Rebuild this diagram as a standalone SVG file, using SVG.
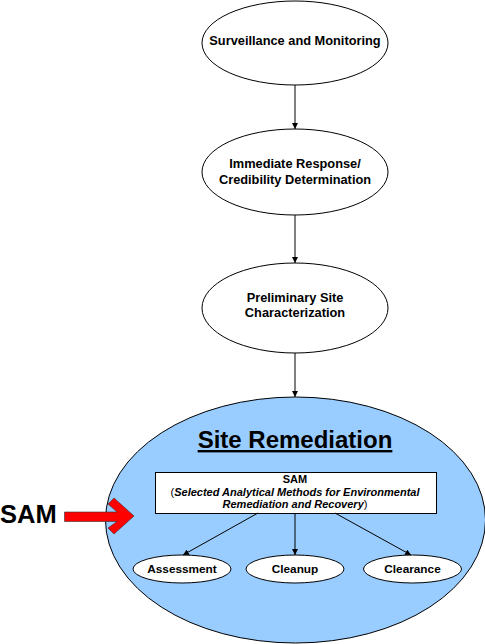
<svg xmlns="http://www.w3.org/2000/svg" width="485" height="644" viewBox="0 0 485 644">
<defs>
<style>
.node{fill:#fff;stroke:#000;stroke-width:1}
.t{font-family:"Liberation Sans",Arial,sans-serif;font-weight:bold;text-anchor:middle;fill:#000}
.m{font-size:12.8px}
.s{font-size:11px}
.c{stroke:#000;stroke-width:1;fill:none;marker-end:url(#ah)}
</style>
<marker id="ah" viewBox="0 0 10 10" refX="10" refY="5" markerWidth="6" markerHeight="6" markerUnits="userSpaceOnUse" orient="auto">
<path d="M0,0 L10,5 L0,10 z" fill="#000"/>
</marker>
</defs>
<rect width="485" height="644" fill="#fff"/>
<g id="site-remediation">
<ellipse cx="295.5" cy="520" rx="190" ry="123" fill="#99CCFF" stroke="#000" stroke-width="1"/>
<text class="t" x="295" y="448" font-size="24px" text-decoration="underline">Site Remediation</text>
</g>
<g id="surveillance">
<ellipse class="node" cx="295" cy="43" rx="93" ry="42"/>
<text class="t m" x="295" y="44.5">Surveillance and Monitoring</text>
</g>
<g id="immediate-response">
<ellipse class="node" cx="295" cy="172" rx="93" ry="43"/>
<text class="t m" x="295" y="168">Immediate Response/</text>
<text class="t m" x="295" y="184">Credibility Determination</text>
</g>
<g id="preliminary">
<ellipse class="node" cx="295" cy="308" rx="93" ry="45"/>
<text class="t m" x="295" y="302">Preliminary Site</text>
<text class="t m" x="295" y="317">Characterization</text>
</g>
<g id="sam-box">
<rect x="155.5" y="472.5" width="281" height="41" fill="#fff" stroke="#000" stroke-width="1"/>
<text class="t s" x="295" y="483">SAM</text>
<text class="t s" x="295" y="496"><tspan font-weight="normal">(</tspan><tspan font-style="italic">Selected Analytical Methods for Environmental</tspan></text>
<text class="t s" x="295" y="508"><tspan font-style="italic">Remediation and Recovery</tspan><tspan font-weight="normal">)</tspan></text>
</g>
<g id="assessment">
<ellipse class="node" cx="182" cy="569" rx="49" ry="14"/>
<text class="t" x="182" y="573" font-size="11.8px">Assessment</text>
</g>
<g id="cleanup">
<ellipse class="node" cx="295" cy="569" rx="49" ry="14"/>
<text class="t" x="295" y="573" font-size="11.8px">Cleanup</text>
</g>
<g id="clearance">
<ellipse class="node" cx="412.5" cy="569" rx="49" ry="14"/>
<text class="t" x="412.5" y="573" font-size="11.8px">Clearance</text>
</g>
<g id="sam-input">
<text x="0" y="523" font-family="'Liberation Sans',Arial,sans-serif" font-weight="bold" font-size="25.5px" fill="#000">SAM</text>
<polygon points="64.5,512 117,512 108,504 114,498 134,516 114,534 108,528 117,521.5 64.5,521.5" fill="#FF0000" stroke="#333" stroke-width="0.6"/>
</g>
<g id="connectors">
<line class="c" x1="295" y1="85" x2="295" y2="129"/>
<line class="c" x1="295" y1="215" x2="295" y2="263"/>
<line class="c" x1="295" y1="353" x2="295" y2="397"/>
<line class="c" x1="258" y1="513" x2="183" y2="555"/>
<line class="c" x1="295" y1="513" x2="295" y2="555"/>
<line class="c" x1="335" y1="513" x2="411" y2="555"/>
</g>
</svg>
